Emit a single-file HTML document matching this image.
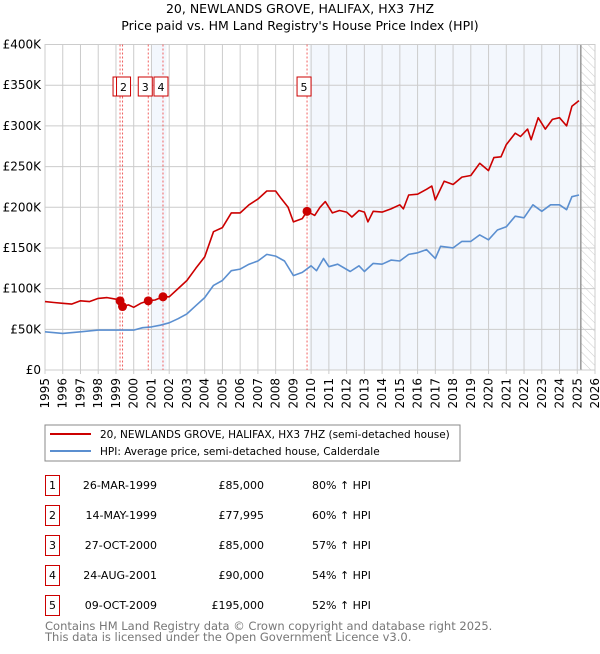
<!DOCTYPE html>
<html><head><meta charset="utf-8"><style>
body{margin:0;background:#fff;font-family:"DejaVu Sans","Liberation Sans",sans-serif;}
svg text{font-family:"DejaVu Sans","Liberation Sans",sans-serif;}
</style></head><body>
<svg id="chart" width="600" height="650" xmlns="http://www.w3.org/2000/svg">
<defs><pattern id="hatch" width="6" height="6" patternUnits="userSpaceOnUse" patternTransform="rotate(-45)"><line x1="0" y1="0" x2="0" y2="6" stroke="#ccc" stroke-width="1"/></pattern></defs>
<text x="300" y="13" text-anchor="middle" font-size="12.5">20, NEWLANDS GROVE, HALIFAX, HX3 7HZ</text>
<text x="300" y="30" text-anchor="middle" font-size="12.5">Price paid vs. HM Land Registry's House Price Index (HPI)</text>
<g id="plot"></g>
<g>
<rect x="45" y="425" width="415" height="36" fill="#fff" stroke="#888"/>
<line x1="50" y1="434" x2="91" y2="434" stroke="#cc0000" stroke-width="2"/>
<text x="100" y="438" font-size="10.5">20, NEWLANDS GROVE, HALIFAX, HX3 7HZ (semi-detached house)</text>
<line x1="50" y1="451" x2="91" y2="451" stroke="#5b8fd0" stroke-width="2"/>
<text x="100" y="455" font-size="10.5">HPI: Average price, semi-detached house, Calderdale</text>
</g>
<g id="table"></g>
<text x="45" y="630" font-size="11.5" fill="#777">Contains HM Land Registry data © Crown copyright and database right 2025.</text>
<text x="45" y="641" font-size="11.5" fill="#777">This data is licensed under the Open Government Licence v3.0.</text>
</svg>
<script>
const redYears=[1995,1995.5,1996,1996.5,1997,1997.5,1998,1998.5,1999,1999.23,1999.37,1999.7,2000,2000.4,2000.82,2001.2,2001.65,2002,2002.5,2003,2003.5,2004,2004.5,2005,2005.5,2006,2006.5,2007,2007.5,2008,2008.3,2008.7,2009,2009.5,2009.77,2010.2,2010.5,2010.8,2011.2,2011.6,2012,2012.3,2012.7,2013,2013.2,2013.5,2014,2014.5,2015,2015.2,2015.5,2016,2016.5,2016.8,2017,2017.5,2018,2018.5,2019,2019.5,2020,2020.3,2020.7,2021,2021.5,2021.8,2022.2,2022.4,2022.8,2023.2,2023.6,2024,2024.4,2024.7,2025.1];
const redVals=[84,83,82,81,85,84,88,89,87,85,78,80,77,82,85,86,90,90,100,110,125,139,170,175,193,193,203,210,220,220,211,200,182,186,195,190,200,207,193,196,194,188,196,194,182,195,194,198,203,198,215,216,222,226,209,232,228,237,239,254,245,261,262,277,291,287,296,283,310,296,308,310,300,324,331];
const blueYears=[1995,1996,1997,1998,1999,2000,2000.5,2001,2001.5,2002,2002.5,2003,2003.5,2004,2004.5,2005,2005.5,2006,2006.5,2007,2007.5,2008,2008.5,2009,2009.5,2010,2010.3,2010.7,2011,2011.5,2012.2,2012.7,2013,2013.5,2014,2014.5,2015,2015.5,2016,2016.5,2017,2017.3,2018,2018.5,2019,2019.5,2020,2020.5,2021,2021.5,2022,2022.5,2023,2023.5,2024,2024.4,2024.7,2025.1];
const blueVals=[47,45,47,49,49,49,52,53,55,58,63,69,79,89,104,110,122,124,130,134,142,140,134,116,120,128,122,137,127,130,121,128,121,131,130,135,134,142,144,148,137,152,150,158,158,166,160,172,176,189,187,203,195,203,203,197,213,215];
const saleLabels=["1","2","3","4","5"];
const saleYears=[1999.23,1999.37,2000.82,2001.65,2009.77];
const saleVals=[85,78,85,90,195];
const saleDates=["26-MAR-1999","14-MAY-1999","27-OCT-2000","24-AUG-2001","09-OCT-2009"];
const salePrices=["£85,000","£77,995","£85,000","£90,000","£195,000"];
const salePcts=["80% ↑ HPI","60% ↑ HPI","57% ↑ HPI","54% ↑ HPI","52% ↑ HPI"];
const yTicks=[0,50,100,150,200,250,300,350,400];
const yTickLabels=["£0","£50K","£100K","£150K","£200K","£250K","£300K","£350K","£400K"];
const xTicks=[1995,1996,1997,1998,1999,2000,2001,2002,2003,2004,2005,2006,2007,2008,2009,2010,2011,2012,2013,2014,2015,2016,2017,2018,2019,2020,2021,2022,2023,2024,2025,2026];

const NS="http://www.w3.org/2000/svg";
const X0=45,X1=595,Y0=370,Y1=44.5;
const xs=y=>X0+(y-1995)/31*(X1-X0);
const ys=v=>Y0-v/400*(Y0-Y1);
const plot=document.getElementById('plot');
function mk(tag,attrs,parent){const e=document.createElementNS(NS,tag);for(const k in attrs)e.setAttribute(k,attrs[k]);(parent||plot).appendChild(e);return e;}
let e;
e=mk('rect',{x:xs(2001),y:Y1,width:xs(2001.85)-xs(2001),height:Y0-Y1,fill:'#eef3fc',opacity:0.7});


e=mk('rect',{x:xs(2009.9),y:Y1,width:xs(2025.2)-xs(2009.9),height:Y0-Y1,fill:'#eef3fc',opacity:0.7});


e=mk('rect',{x:xs(2025.2),y:Y1,width:X1-xs(2025.2),height:Y0-Y1,fill:'url(#hatch)'});


yTicks.forEach((t,i)=>{
 e=mk('line',{x1:X0,x2:X1,y1:ys(t),y2:ys(t),stroke:'#ccc'});
 
 
 e=mk('text',{x:X0-4,y:ys(t)+4,'text-anchor':'end','font-size':12});
 
 
 e.textContent=yTickLabels[i];
});
xTicks.forEach(t=>{
 e=mk('line',{x1:xs(t),x2:xs(t),y1:Y1,y2:Y0+4,stroke:'#ccc'});
 
 
 e=mk('text',{x:0,y:0,'text-anchor':'end','font-size':12,transform:`translate(${xs(t)+4},${Y0+8}) rotate(-90)`});
 
 
 e.textContent=t;
});
e=mk('line',{x1:xs(2025.2),x2:xs(2025.2),y1:Y1,y2:Y0,stroke:'#999','stroke-width':1.5});


e=mk('rect',{x:X0,y:Y1,width:X1-X0,height:Y0-Y1,fill:'none',stroke:'#ccc'});


saleYears.forEach((s,i)=>{
 e=mk('line',{x1:xs(s),x2:xs(s),y1:Y1,y2:Y0,stroke:'#f06060','stroke-dasharray':'2,2'});
 
 
});
function path(years,vals,color,name){
 const d=years.map((y,i)=>(i?'L':'M')+xs(y).toFixed(1)+','+ys(vals[i]).toFixed(1)).join('');
 e=mk('path',{d:d,fill:'none',stroke:color,'stroke-width':1.6,'stroke-linejoin':'round'});
 
 
}
path(blueYears,blueVals,'#5b8fd0','hpi-line');
path(redYears,redVals,'#cc0000','price-paid-line');
saleYears.forEach((s,i)=>{
 e=mk('circle',{cx:xs(s),cy:ys(saleVals[i]),r:4.5,fill:'#cc0000'});
 
 
});
const boxX=[xs(1999.23)-7,xs(1999.37)-6,xs(2000.82)-10,xs(2001.65)-9,xs(2009.77)-10];
saleLabels.forEach((l,i)=>{
 const g=mk('g',{});
 
 
 mk('rect',{x:boxX[i],y:77,width:14,height:19,fill:'#fff',stroke:'#cc0000'},g);
 const t=mk('text',{x:boxX[i]+7,y:91,'text-anchor':'middle','font-size':11},g);
 t.textContent=l;
});
const tbl=document.getElementById('table');
saleLabels.forEach((l,i)=>{
 const y=475+i*30;
 const g=mk('g',{},tbl);
 
 
 mk('rect',{x:45.5,y:y+0.5,width:14,height:20,fill:'#fff',stroke:'#cc0000'},g);
 let t=mk('text',{x:52.5,y:y+14,'text-anchor':'middle','font-size':11},g);t.textContent=l;
 t=mk('text',{x:157,y:y+14,'text-anchor':'end','font-size':11},g);t.textContent=saleDates[i];
 t=mk('text',{x:264,y:y+14,'text-anchor':'end','font-size':11},g);t.textContent=salePrices[i];
 t=mk('text',{x:312,y:y+14,'font-size':11},g);t.textContent=salePcts[i];
});
</script>
</body></html>
